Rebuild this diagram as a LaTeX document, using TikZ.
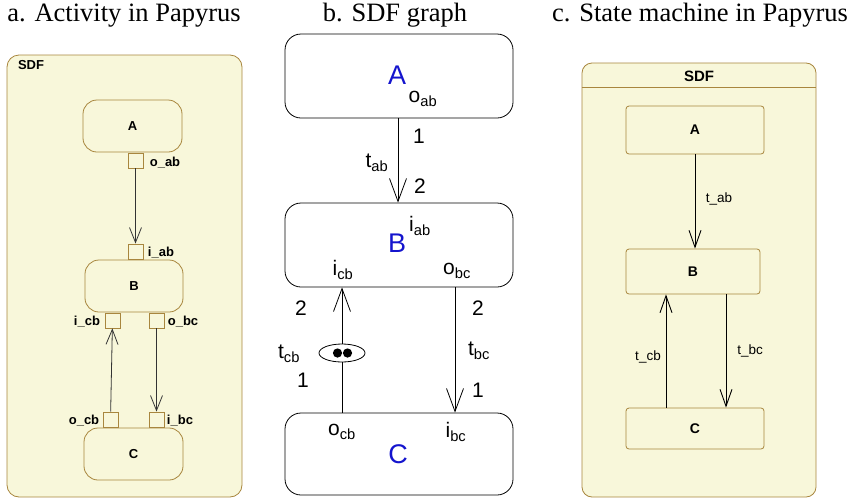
\documentclass[tikz,border=0pt]{standalone}
\usepackage{fontspec}
\usepackage{tikz}
\usetikzlibrary{arrows.meta,shapes.geometric}
\newfontfamily\arialfont{Liberation Sans}
\newfontfamily\titlefont{Liberation Serif}
\definecolor{papyel}{RGB}{248,247,218}
\definecolor{papbrn}{RGB}{168,134,62}
\definecolor{sdfblue}{RGB}{20,20,205}

\begin{document}
\begin{tikzpicture}[x=1pt,y=-1pt,
  ttl/.style={anchor=base,inner sep=0pt,font=\titlefont\fontsize{26.5}{28}\selectfont},
  pframe/.style={draw=papbrn,fill=papyel,rounded corners=12pt,line width=0.8pt,inner sep=0pt},
  pact/.style={draw=papbrn,fill=papyel,rounded corners=14pt,line width=0.8pt,inner sep=0pt,font=\arialfont\fontsize{13}{14}\bfseries\selectfont},
  pport/.style={draw=papbrn,fill=papyel,line width=0.8pt,minimum size=15pt,inner sep=0pt},
  plbl/.style={inner sep=0pt,font=\arialfont\fontsize{13}{14}\bfseries\selectfont},
  pstate/.style={draw=papbrn,fill=papyel,rounded corners=3pt,line width=0.8pt,inner sep=0pt,font=\arialfont\fontsize{14}{15}\bfseries\selectfont},
  sdfnode/.style={draw,rounded corners=16pt,line width=0.8pt,minimum width=228pt,inner sep=0pt},
  sdfname/.style={inner sep=0pt,text=sdfblue,font=\arialfont\fontsize{27}{30}\selectfont},
  sdflbl/.style={inner sep=0pt,font=\arialfont\fontsize{21}{23}\selectfont},
  clbl/.style={inner sep=0pt,font=\arialfont\fontsize{13.5}{15}\selectfont},
  aarr/.style={draw=black!80,line width=0.8pt,-{Straight Barb[length=15pt,width=12pt]}},
  barr/.style={line width=0.8pt,-{Straight Barb[length=23pt,width=17pt]}},
  carr/.style={line width=0.9pt,-{Straight Barb[length=17pt,width=12pt]}}]
\useasboundingbox (0,0) rectangle (854,501);

\node[ttl] (ttla) at (124,21) {a. Activity in Papyrus};
\node[ttl] (ttlb) at (395,21) {b. SDF graph};
\node[ttl] (ttlc) at (700,21) {c. State machine in Papyrus};

\node[pframe,minimum width=235pt,minimum height=442pt] (sdfa) at (124.5,276) {};
\node[plbl] (sdfalbl) at (31,65) {SDF};
\node[pact,minimum width=99pt,minimum height=52pt] (actA) at (132.5,126) {A};
\node[pact,minimum width=98pt,minimum height=52pt] (actB) at (134,286) {B};
\node[pact,minimum width=99pt,minimum height=52pt] (actC) at (133.5,454) {C};
\node[pport] (oab) at (135.5,160.5) {};
\node[pport] (iab) at (135.5,251.5) {};
\node[pport] (icb) at (112.5,320.5) {};
\node[pport] (obc) at (156.5,320.5) {};
\node[pport] (ocb) at (110.5,419.5) {};
\node[pport] (ibc) at (156.5,419.5) {};
\node[plbl] (oablbl) at (165,163) {o\_ab};
\node[plbl] (iablbl) at (161,253) {i\_ab};
\node[plbl] (icblbl) at (87,322) {i\_cb};
\node[plbl] (obclbl) at (183,322) {o\_bc};
\node[plbl] (ocblbl) at (84,421) {o\_cb};
\node[plbl] (ibclbl) at (180,421) {i\_bc};
\draw[aarr] (oab) -- (iab);
\draw[aarr] (ocb) -- (icb);
\draw[aarr] (obc) -- (ibc);

\node[sdfnode,minimum height=84pt] (sdfA) at (399,76) {};
\node[sdfnode,minimum height=84pt] (sdfB) at (399,245) {};
\node[sdfnode,minimum height=82pt] (sdfC) at (399,454) {};
\node[sdfname] (nameA) at (397,75) {A};
\node[sdfname] (nameB) at (397,243) {B};
\node[sdfname] (nameC) at (398,454) {C};
\coordinate (xab) at (398,0);
\coordinate (xcb) at (342,0);
\coordinate (xbc) at (455,0);
\draw[barr] (sdfA.south -| xab) -- (sdfB.north -| xab);
\draw[barr] (sdfC.north -| xcb) -- (sdfB.south -| xcb);
\draw[barr] (sdfB.south -| xbc) -- (sdfC.north -| xbc);
\node[draw,fill=white,ellipse,line width=0.8pt,minimum width=46pt,minimum height=18pt,inner sep=0pt] (tok) at (342,353) {};
\fill (337.5,353) circle (4.6);
\fill (347.5,353) circle (4.6);
\node[sdflbl] (soab) at (423,99) {o\textsubscript{ab}};
\node[sdflbl] (siab) at (420,226) {i\textsubscript{ab}};
\node[sdflbl] (sicb) at (343,270) {i\textsubscript{cb}};
\node[sdflbl] (sobc) at (457,271) {o\textsubscript{bc}};
\node[sdflbl] (socb) at (342,432) {o\textsubscript{cb}};
\node[sdflbl] (sibc) at (456,432) {i\textsubscript{bc}};
\node[sdflbl] (pab1) at (419,136) {1};
\node[sdflbl] (tab) at (377,163) {t\textsubscript{ab}};
\node[sdflbl] (pab2) at (420,186) {2};
\node[sdflbl] (pcb2) at (301,308) {2};
\node[sdflbl] (tcb) at (289,354) {t\textsubscript{cb}};
\node[sdflbl] (pcb1) at (303,380) {1};
\node[sdflbl] (pbc2) at (478,308) {2};
\node[sdflbl] (tbc) at (479,351) {t\textsubscript{bc}};
\node[sdflbl] (pbc1) at (478,390) {1};

\node[pframe,rounded corners=10pt,minimum width=234pt,minimum height=434pt] (sdfc) at (699,280) {};
\coordinate (hdr) at (0,87);
\draw[papbrn,line width=0.8pt] (sdfc.west |- hdr) -- (sdfc.east |- hdr);
\node[plbl,font=\arialfont\fontsize{15}{16}\bfseries\selectfont] (sdfclbl) at (699,76) {SDF};
\node[pstate,minimum width=138pt,minimum height=48pt] (stA) at (695,130) {A};
\node[pstate,minimum width=134pt,minimum height=45pt] (stB) at (693,271.5) {B};
\node[pstate,minimum width=138pt,minimum height=41pt] (stC) at (695,428.5) {C};
\coordinate (xtab) at (695,0);
\coordinate (xtcb) at (666,0);
\coordinate (xtbc) at (726,0);
\draw[carr] (stA.south -| xtab) -- (stB.north -| xtab);
\draw[carr] (stC.north -| xtcb) -- (stB.south -| xtcb);
\draw[carr] (stB.south -| xtbc) -- (stC.north -| xtbc);
\node[clbl] (ltab) at (719,199) {t\_ab};
\node[clbl] (ltcb) at (648,357) {t\_cb};
\node[clbl] (ltbc) at (750,351) {t\_bc};
\end{tikzpicture}
\end{document}
